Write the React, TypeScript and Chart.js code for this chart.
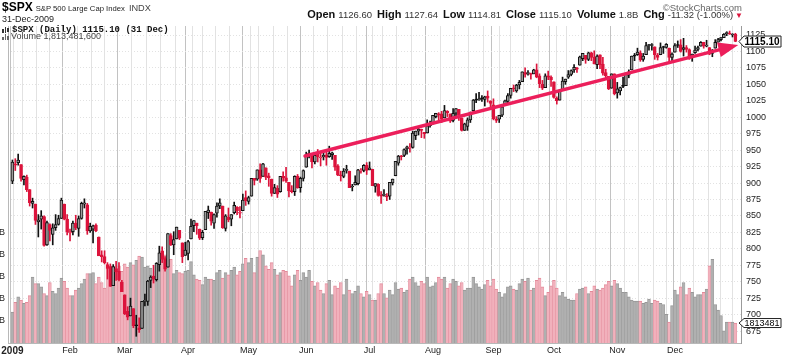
import React, { useEffect, useRef } from "react";
import { Chart, registerables } from "chart.js";

Chart.register(...registerables);

// ---------------- data ----------------
const tradingDays: string[] = [
  "01-02","01-05","01-06","01-07","01-08","01-09","01-12","01-13","01-14","01-15","01-16","01-20","01-21","01-22","01-23","01-26","01-27","01-28","01-29","01-30",
  "02-02","02-03","02-04","02-05","02-06","02-09","02-10","02-11","02-12","02-13","02-17","02-18","02-19","02-20","02-23","02-24","02-25","02-26","02-27",
  "03-02","03-03","03-04","03-05","03-06","03-09","03-10","03-11","03-12","03-13","03-16","03-17","03-18","03-19","03-20","03-23","03-24","03-25","03-26","03-27","03-30","03-31",
  "04-01","04-02","04-03","04-06","04-07","04-08","04-09","04-13","04-14","04-15","04-16","04-17","04-20","04-21","04-22","04-23","04-24","04-27","04-28","04-29","04-30",
  "05-01","05-04","05-05","05-06","05-07","05-08","05-11","05-12","05-13","05-14","05-15","05-18","05-19","05-20","05-21","05-22","05-26","05-27","05-28","05-29",
  "06-01","06-02","06-03","06-04","06-05","06-08","06-09","06-10","06-11","06-12","06-15","06-16","06-17","06-18","06-19","06-22","06-23","06-24","06-25","06-26","06-29","06-30",
  "07-01","07-02","07-06","07-07","07-08","07-09","07-10","07-13","07-14","07-15","07-16","07-17","07-20","07-21","07-22","07-23","07-24","07-27","07-28","07-29","07-30","07-31",
  "08-03","08-04","08-05","08-06","08-07","08-10","08-11","08-12","08-13","08-14","08-17","08-18","08-19","08-20","08-21","08-24","08-25","08-26","08-27","08-28","08-31",
  "09-01","09-02","09-03","09-04","09-08","09-09","09-10","09-11","09-14","09-15","09-16","09-17","09-18","09-21","09-22","09-23","09-24","09-25","09-28","09-29","09-30",
  "10-01","10-02","10-05","10-06","10-07","10-08","10-09","10-12","10-13","10-14","10-15","10-16","10-19","10-20","10-21","10-22","10-23","10-26","10-27","10-28","10-29","10-30",
  "11-02","11-03","11-04","11-05","11-06","11-09","11-10","11-11","11-12","11-13","11-16","11-17","11-18","11-19","11-20","11-23","11-24","11-25","11-27","11-30",
  "12-01","12-02","12-03","12-04","12-07","12-08","12-09","12-10","12-11","12-14","12-15","12-16","12-17","12-18","12-21","12-22","12-23","12-24","12-28","12-29","12-30","12-31",
];

const opens: number[] = [
  903,929,931,928,905,909,890,869,868,841,845,849,806,837,822,832,837,846,868,845,
  824,826,839,831,846,868,867,827,830,836,818,791,788,776,773,744,770,766,749,
  730,705,698,709,684,680,679,720,720,752,758,753,776,797,785,772,820,806,815,828,809,790,
  793,815,835,839,830,817,829,855,856,839,854,865,865,831,848,845,855,863,854,858,878,
  872,880,907,906,920,910,923,911,906,884,892,887,910,908,901,888,887,910,893,907,
  924,943,942,932,945,938,940,943,940,943,942,926,911,910,919,918,894,897,899,918,919,927,
  920,921,895,898,881,881,880,880,900,911,930,941,942,952,953,954,972,979,981,977,976,987,
  990,1001,1005,1005,999,1009,1005,995,1006,1012,999,980,986,996,1010,1026,1026,1028,1027,1032,1025,
  1019,997,997,1003,1019,1024,1033,1044,1040,1049,1054,1068,1066,1065,1066,1072,1063,1050,1045,1063,1061,
  1054,1029,1026,1042,1054,1061,1065,1072,1074,1079,1089,1094,1088,1098,1091,1080,1095,1081,1068,1062,1044,1066,
  1037,1040,1047,1048,1064,1072,1093,1095,1098,1088,1095,1109,1109,1107,1094,1095,1106,1106,1105,1091,
  1099,1109,1110,1103,1106,1103,1092,1098,1103,1108,1114,1108,1106,1097,1105,1114,1118,1121,1127,1128,1125,1126.6,
];

const highs: number[] = [
  935,937,944,928,911,912,890,877,868,852,858,850,842,838,838,852,851,877,868,852,
  830,842,851,850,871,876,869,839,836,838,818,797,797,779,777,776,781,779,752,
  730,712,725,709,699,695,720,731,752,759,775,779,804,803,788,823,823,826,833,828,809,810,
  813,845,843,839,830,828,857,865,856,853,870,876,865,852,862,852,871,864,864,883,888,
  880,907,907,920,929,930,923,915,906,898,896,910,917,924,901,896,911,913,909,920,
  947,950,942,942,951,946,947,949,956,947,942,928,918,922,927,918,898,911,921,922,928,931,
  932,921,899,899,887,890,884,901,906,933,942,942,952,956,960,979,979,983,982,977,996,994,
  1003,1006,1007,1009,1018,1010,1005,1013,1013,1012,999,991,999,1008,1027,1036,1038,1033,1032,1040,1025,
  1028,1001,1003,1017,1026,1036,1044,1049,1050,1056,1069,1075,1071,1067,1073,1081,1066,1056,1066,1070,1063,
  1054,1031,1042,1061,1058,1071,1072,1080,1076,1093,1097,1094,1099,1099,1101,1095,1095,1091,1073,1062,1066,1066,
  1053,1046,1061,1067,1072,1093,1097,1105,1101,1097,1114,1111,1112,1107,1097,1113,1108,1112,1105,1098,
  1112,1116,1118,1120,1109,1104,1096,1108,1108,1115,1114,1117,1106,1103,1118,1120,1121,1127,1130,1131,1127,1127.64,
];

const lows: number[] = [
  899,919,927,903,897,887,865,862,837,818,830,804,805,812,806,828,836,846,844,821,
  812,821,829,819,845,862,822,825,809,826,790,780,777,754,743,744,752,751,735,
  700,692,698,680,667,673,679,713,714,741,748,751,766,779,766,772,805,791,815,814,779,790,
  783,815,826,822,814,814,829,846,836,831,848,861,831,827,841,835,853,852,847,858,866,
  868,880,897,904,901,910,905,895,880,884,878,886,903,901,879,885,881,892,886,903,
  924,938,923,929,932,926,935,927,939,936,919,911,903,908,915,893,888,897,897,915,917,913,
  920,896,886,880,869,880,873,875,897,911,927,935,940,944,947,953,966,973,969,968,976,985,
  990,999,996,992,999,1001,992,993,1002,995,979,980,980,992,1009,1022,1026,1024,1017,1023,1015,
  996,992,992,1001,1018,1022,1029,1039,1038,1043,1054,1061,1064,1058,1066,1060,1045,1042,1045,1057,1047,
  1029,1020,1026,1042,1050,1059,1063,1068,1068,1079,1086,1082,1086,1086,1081,1074,1074,1064,1060,1042,1044,1034,
  1029,1034,1045,1048,1060,1072,1086,1094,1085,1085,1095,1102,1102,1088,1087,1095,1097,1105,1083,1085,
  1099,1106,1099,1093,1099,1088,1085,1097,1101,1108,1105,1107,1095,1092,1105,1114,1116,1121,1124,1126,1122,1114.81,
];

const closes: number[] = [
  932,927,935,907,910,890,870,872,843,844,850,805,840,828,832,837,846,874,845,826,
  825,839,832,846,869,870,827,834,835,827,789,788,779,770,743,773,765,753,735,
  701,696,713,683,683,677,720,721,751,757,754,778,794,784,769,823,806,814,833,816,788,798,
  811,834,843,835,816,825,857,859,842,852,865,870,832,850,844,852,866,858,855,874,873,
  878,907,904,920,907,929,909,908,884,893,883,910,908,903,888,887,910,893,907,919,
  943,945,932,942,940,939,942,939,945,946,924,912,911,918,921,893,895,901,920,919,927,919,
  923,896,899,881,880,883,879,901,906,933,941,940,951,955,954,976,979,982,980,975,987,987,
  1003,1006,1003,997,1010,1007,994,1006,1013,1004,980,990,996,1007,1026,1026,1028,1028,1031,1029,1021,
  998,995,1003,1016,1025,1033,1044,1043,1049,1053,1069,1065,1068,1065,1072,1061,1051,1044,1063,1061,1057,
  1030,1025,1040,1055,1058,1065,1071,1076,1073,1092,1097,1088,1098,1091,1081,1093,1080,1067,1063,1043,1066,1036,
  1043,1045,1047,1067,1069,1093,1093,1099,1087,1093,1109,1110,1110,1095,1091,1106,1106,1111,1091,1096,
  1109,1109,1100,1106,1103,1092,1096,1102,1106,1114,1108,1109,1096,1102,1114,1118,1121,1126,1128,1126.2,1126.42,1115.1,
];

// daily volume, billions of shares
const volumesB: number[] = [
  2.8,3.7,4.2,3.9,3.6,3.7,4.3,6.0,5.4,5.4,5.1,4.5,4.3,5.5,4.7,4.5,5.0,5.9,5.6,5.0,
  4.3,4.3,4.8,5.0,5.4,5.8,6.3,6.3,6.4,5.4,6.0,5.5,5.0,6.8,7.0,6.9,6.7,7.0,6.5,
  7.2,6.9,7.3,7.1,7.5,7.9,7.8,6.9,7.0,6.8,6.1,6.5,7.3,7.8,8.0,7.3,7.6,6.3,6.6,6.4,6.3,6.5,
  6.6,7.4,6.2,5.8,5.7,5.3,6.0,5.8,5.8,5.7,6.4,6.6,5.9,6.4,6.2,6.6,6.9,6.2,6.5,7.2,7.7,
  7.3,7.7,6.4,7.8,8.4,8.0,7.0,6.7,7.3,6.7,6.2,6.4,6.6,6.5,6.1,5.2,6.2,6.6,5.7,6.4,
  6.0,6.6,5.6,5.2,5.5,4.8,4.5,5.4,5.7,4.4,5.2,5.0,5.5,4.4,5.8,4.8,4.5,4.7,5.2,4.5,4.2,4.7,
  4.4,3.9,3.9,4.5,5.4,4.5,4.1,4.8,4.4,5.5,4.9,5.0,4.6,4.8,5.8,6.0,5.5,5.2,5.6,5.4,6.0,5.1,
  5.2,5.5,6.0,5.8,6.0,5.0,5.4,5.8,5.6,5.2,5.5,4.8,5.0,5.0,6.0,5.4,5.1,4.9,5.3,5.7,5.2,
  5.8,4.9,4.6,4.2,4.5,5.1,5.2,4.9,4.8,5.4,5.8,5.6,5.9,4.8,5.0,5.7,5.9,5.1,4.3,4.6,5.2,
  5.7,5.0,4.3,4.6,4.2,4.0,3.9,3.9,4.5,4.9,5.0,5.1,4.5,4.7,5.2,4.9,4.8,5.0,5.3,5.6,5.2,5.7,
  5.4,5.0,4.6,4.6,4.2,3.9,3.8,3.8,3.8,3.6,3.7,4.0,3.6,3.9,3.8,3.6,3.5,2.6,1.9,3.4,
  4.8,4.4,5.1,5.5,4.4,5.0,4.6,4.2,4.4,4.4,4.6,4.9,7.0,7.6,3.5,3.0,2.5,1.1,1.9,1.9,1.9,1.8134816,
];

const monthLabels: string[] = ["2009", "Feb", "Mar", "Apr", "May", "Jun", "Jul", "Aug", "Sep", "Oct", "Nov", "Dec"];
const priceTicks: number[] = [675, 700, 725, 750, 775, 800, 825, 850, 875, 900, 925, 950, 975, 1000, 1025, 1050, 1075, 1100, 1125];
const volumeTicks: number[] = [2, 4, 6, 8, 10];
const volumeTickLabels: string[] = ["2B", "4B", "6B", "8B", "10B"];
// trend arrow drawn on the chart: [trading-day index, price]
const trendStart: [number, number] = [101.6, 941];
const trendEnd: [number, number] = [252, 1110];

// ---------------- derived ----------------
const FONT = "'Liberation Sans', Arial, Helvetica, sans-serif";
const RED = "#dc143c";
const n = closes.length;
const isUp = closes.map((c, i) => c >= (i === 0 ? opens[0] : closes[i - 1]));
const candleColor = isUp.map((u) => (u ? "#111111" : RED));
const bodyFill = closes.map((c, i) => (c > opens[i] ? (isUp[i] ? "#9c9c9c" : "#f28aa0") : candleColor[i]));
const volFill = isUp.map((u) => (u ? "#b0b0b0" : "#f1b1bc"));
const volBorder = isUp.map((u) => (u ? "#979797" : "#e38a9a"));

const weekday = (s: string) => new Date(2009, +s.slice(0, 2) - 1, +s.slice(3)).getDay();
const monthOf = (s: string) => +s.slice(0, 2) - 1;
const monthStart = new Map<number, number>();
const tickIdx: number[] = [];
tradingDays.forEach((d, i) => {
  const newMonth = i === 0 || monthOf(d) !== monthOf(tradingDays[i - 1]);
  const newWeek = i === 0 || weekday(d) <= weekday(tradingDays[i - 1]);
  if (newMonth) monthStart.set(i, monthOf(d));
  if (newMonth || newWeek) tickIdx.push(i);
});

const idx = closes.map((_, i) => i);
const lastClose = closes[n - 1];
const chg = lastClose - closes[n - 2];
const chgPct = (chg / closes[n - 2]) * 100;
const lastVolume = volumesB[n - 1] * 1e9;

const trendPlugin = {
  id: "trendArrow",
  afterDatasetsDraw(chart: any) {
    const { ctx, scales } = chart;
    const x1 = scales.x.getPixelForValue(trendStart[0]);
    const y1 = scales.y.getPixelForValue(trendStart[1]);
    const x2 = scales.x.getPixelForValue(trendEnd[0]);
    const y2 = scales.y.getPixelForValue(trendEnd[1]);
    const a = Math.atan2(y2 - y1, x2 - x1);
    const hl = 20, hw = 7.5;
    const bx = x2 - hl * Math.cos(a), by = y2 - hl * Math.sin(a);
    ctx.save();
    ctx.strokeStyle = "#ec1f5b";
    ctx.fillStyle = "#ec1f5b";
    ctx.lineWidth = 3.5;
    ctx.lineCap = "round";
    ctx.beginPath();
    ctx.moveTo(x1, y1);
    ctx.lineTo(bx + 2 * Math.cos(a), by + 2 * Math.sin(a));
    ctx.stroke();
    ctx.beginPath();
    ctx.moveTo(x2, y2);
    ctx.lineTo(bx + hw * Math.sin(a), by - hw * Math.cos(a));
    ctx.lineTo(bx - hw * Math.sin(a), by + hw * Math.cos(a));
    ctx.closePath();
    ctx.fill();
    ctx.restore();
  },
};

const tagPlugin = {
  id: "lastTags",
  afterDraw(chart: any) {
    const { ctx, chartArea, scales } = chart;
    const drawTag = (yc: number, text: string, bold: boolean, h: number) => {
      const x0 = chartArea.right - 2;
      const w = 42;
      ctx.save();
      ctx.beginPath();
      ctx.moveTo(x0, yc);
      ctx.lineTo(x0 + 5, yc - h / 2);
      ctx.lineTo(x0 + w, yc - h / 2);
      ctx.lineTo(x0 + w, yc + h / 2);
      ctx.lineTo(x0 + 5, yc + h / 2);
      ctx.closePath();
      ctx.fillStyle = "#ffffff";
      ctx.fill();
      ctx.lineWidth = 1;
      ctx.strokeStyle = "#222";
      ctx.stroke();
      ctx.fillStyle = "#000";
      ctx.font = `${bold ? "bold 10px" : "9px"} ${FONT}`;
      ctx.textBaseline = "middle";
      ctx.textAlign = "left";
      ctx.fillText(text, x0 + 5.5, yc + 0.5);
      ctx.restore();
    };
    drawTag(scales.y.getPixelForValue(lastClose), lastClose.toFixed(2), true, 11);
    drawTag(scales.yVol.getPixelForValue(volumesB[n - 1]), String(Math.floor(lastVolume / 1000)), false, 9);
  },
};

function buildConfig(): any {
  return {
    type: "bar",
    data: {
      datasets: [
        {
          label: "Volume",
          yAxisID: "yVol",
          data: idx.map((i) => ({ x: i, y: volumesB[i] })),
          backgroundColor: volFill,
          borderColor: volBorder,
          borderWidth: { top: 1, left: 0.5, right: 0.5, bottom: 0 },
          borderSkipped: false,
          barPercentage: 1,
          categoryPercentage: 1,
          grouped: false,
          order: 3,
        },
        {
          label: "Wicks",
          yAxisID: "y",
          data: idx.map((i) => ({ x: i, y: [lows[i], highs[i]] })),
          backgroundColor: candleColor,
          borderWidth: 0,
          barThickness: 1,
          grouped: false,
          order: 2,
        },
        {
          label: "Bodies",
          yAxisID: "y",
          data: idx.map((i) => ({ x: i, y: [opens[i], closes[i]] })),
          backgroundColor: bodyFill,
          borderColor: candleColor,
          borderWidth: 1,
          borderSkipped: false,
          barThickness: 3,
          minBarLength: 1,
          grouped: false,
          order: 1,
        },
      ],
    },
    options: {
      animation: false,
      responsive: false,
      devicePixelRatio: 1,
      events: [],
      layout: { padding: { top: 26, left: 0, right: 0, bottom: 0 } },
      plugins: { legend: { display: false }, tooltip: { enabled: false }, title: { display: false } },
      scales: {
        x: {
          type: "linear",
          min: -1.53,
          max: 252.95,
          offset: false,
          afterBuildTicks: (s: any) => {
            s.ticks = tickIdx.map((v) => ({ value: v }));
          },
          afterFit: (s: any) => {
            s.height = 13;
            s.paddingLeft = 0;
            s.paddingRight = 0;
          },
          grid: {
            drawTicks: false,
            color: (c: any) => (c.tick && monthStart.has(c.tick.value) ? "#c2c2c2" : "#e2e2e2"),
            lineWidth: 1,
          },
          border: { display: true, color: "#b8b8b8" },
          ticks: {
            autoSkip: false,
            maxRotation: 0,
            minRotation: 0,
            padding: 2,
            color: "#222",
            font: (c: any) =>
              c.tick && c.tick.value === 0
                ? { size: 10, weight: "bold", family: FONT }
                : { size: 9, weight: "normal", family: FONT },
            callback: (v: any) => (monthStart.has(v) ? monthLabels[monthStart.get(v) as number] : ""),
          },
        },
        y: {
          type: "linear",
          position: "right",
          min: 656.8,
          max: 1138.7,
          afterBuildTicks: (s: any) => {
            s.ticks = priceTicks.map((v) => ({ value: v }));
          },
          afterFit: (s: any) => {
            s.width = 59;
            s.paddingTop = 0;
            s.paddingBottom = 0;
          },
          grid: { drawTicks: false, color: "#e2e2e2", lineWidth: 1 },
          border: { display: true, color: "#9a9a9a", dash: [1, 2] },
          ticks: {
            padding: 5,
            color: "#222",
            font: { size: 9, family: FONT },
            callback: (v: any) => String(v),
          },
        },
        yVol: {
          type: "linear",
          position: "left",
          min: 0,
          max: 28.8,
          afterBuildTicks: (s: any) => {
            s.ticks = volumeTicks.map((v) => ({ value: v }));
          },
          afterFit: (s: any) => {
            s.width = 8;
            s.paddingTop = 0;
            s.paddingBottom = 0;
          },
          grid: { display: false, drawTicks: false },
          border: { display: true, color: "#b8b8b8" },
          ticks: {
            padding: 3,
            color: "#222",
            font: { size: 9, family: FONT },
            callback: (v: any) => volumeTickLabels[volumeTicks.indexOf(v)] ?? "",
          },
        },
      },
    },
    plugins: [trendPlugin, tagPlugin],
  };
}

const noGrow: React.CSSProperties = { lineHeight: 0 };

export default function App() {
  const canvasRef = useRef<HTMLCanvasElement | null>(null);
  useEffect(() => {
    document.body.style.margin = "0";
    const chart = new Chart(canvasRef.current as HTMLCanvasElement, buildConfig());
    return () => chart.destroy();
  }, []);

  const lbl = (t: string, first = false): React.ReactNode => (
    <span style={{ ...noGrow, fontWeight: "bold", fontSize: 11, color: "#111", marginLeft: first ? 0 : 5 }}>{t}</span>
  );
  const val = (t: string): React.ReactNode => (
    <span style={{ ...noGrow, fontSize: 9.5, color: "#333", marginLeft: 3 }}>{t}</span>
  );

  return (
    <div
      style={{
        position: "relative",
        width: 800,
        height: 356,
        background: "#ffffff",
        overflow: "hidden",
        fontFamily: FONT,
      }}
    >
      <canvas ref={canvasRef} width={800} height={356} style={{ position: "absolute", left: 0, top: 0, display: "block" }} />

      {/* title line */}
      <div style={{ position: "absolute", left: 2, top: 1, fontSize: 12, lineHeight: "12px", whiteSpace: "nowrap", color: "#000" }}>
        <span style={{ ...noGrow, fontWeight: "bold", fontSize: 12 }}>$SPX</span>
        <span style={{ ...noGrow, fontSize: 7.7, color: "#222", marginLeft: 3 }}>S&amp;P 500 Large Cap Index</span>
        <span style={{ ...noGrow, fontSize: 9.2, color: "#444", marginLeft: 4 }}>INDX</span>
      </div>
      <div style={{ position: "absolute", left: 2, top: 15.4, fontSize: 9, lineHeight: "9px", color: "#222", whiteSpace: "nowrap" }}>
        31-Dec-2009
      </div>

      {/* copyright */}
      <div style={{ position: "absolute", right: 58, top: 2.5, fontSize: 9.5, lineHeight: "9.5px", color: "#666", whiteSpace: "nowrap" }}>
        ©StockCharts.com
      </div>

      {/* quote line */}
      <div style={{ position: "absolute", right: 57, top: 9.2, fontSize: 11, lineHeight: "11px", whiteSpace: "nowrap" }}>
        {lbl("Open", true)}
        {val(opens[n - 1].toFixed(2))}
        {lbl("High")}
        {val(highs[n - 1].toFixed(2))}
        {lbl("Low")}
        {val(lows[n - 1].toFixed(2))}
        {lbl("Close")}
        {val(lastClose.toFixed(2))}
        {lbl("Volume")}
        {val((lastVolume / 1e9).toFixed(1) + "B")}
        {lbl("Chg")}
        {val(`${chg.toFixed(2)} (${chgPct.toFixed(2)}%)`)}
        <span style={{ ...noGrow, fontSize: 8, color: RED, marginLeft: 2 }}>▼</span>
      </div>

      {/* in-chart legend */}
      <div style={{ position: "absolute", left: 2, top: 27, width: 7, height: 7 }}>
        <div style={{ position: "absolute", left: 0, top: 2, width: 2, height: 4, background: "#333" }} />
        <div style={{ position: "absolute", left: 3, top: 0, width: 1, height: 6, background: "#333" }} />
        <div style={{ position: "absolute", left: 5, top: 1, width: 2, height: 4, background: "#333" }} />
      </div>
      <div style={{ position: "absolute", left: 12, top: 26.1, fontSize: 9, lineHeight: "9px", fontWeight: "bold", fontFamily: "'Liberation Mono', 'DejaVu Sans Mono', monospace", color: "#111", whiteSpace: "nowrap" }}>
        {`$SPX (Daily) ${lastClose.toFixed(2)} (31 Dec)`}
      </div>
      <div style={{ position: "absolute", left: 2, top: 34, width: 8, height: 6 }}>
        <div style={{ position: "absolute", left: 0, top: 3, width: 1.5, height: 3, background: "#666" }} />
        <div style={{ position: "absolute", left: 2.5, top: 0, width: 1.5, height: 6, background: "#666" }} />
        <div style={{ position: "absolute", left: 5, top: 2, width: 1.5, height: 4, background: "#666" }} />
      </div>
      <div style={{ position: "absolute", left: 11, top: 32.4, fontSize: 9, lineHeight: "9px", color: "#444", whiteSpace: "nowrap" }}>
        {`Volume ${Math.round(lastVolume).toLocaleString("en-US")}`}
      </div>
    </div>
  );
}
